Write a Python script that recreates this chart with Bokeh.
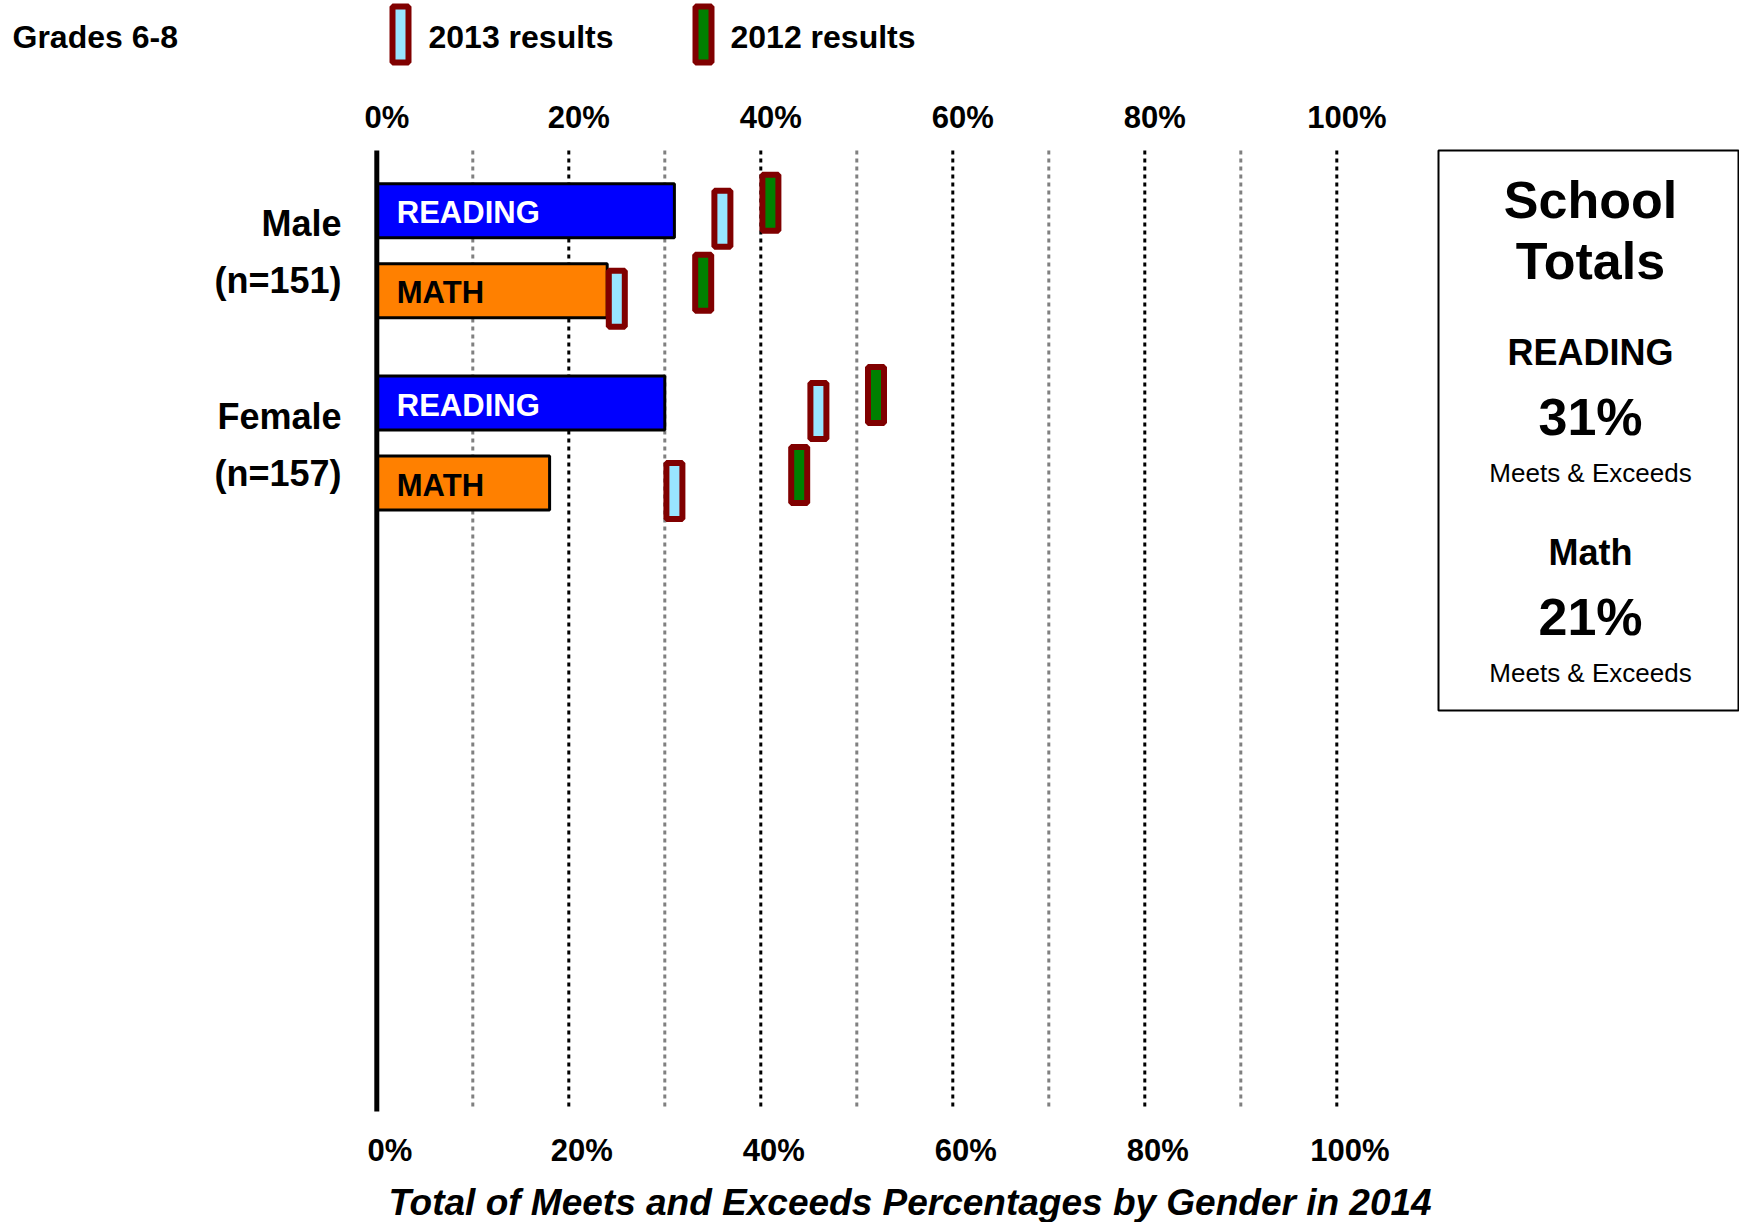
from bokeh.plotting import figure
from bokeh.models import Range1d, ColumnDataSource
from bokeh.core.properties import value
from bokeh.embed import file_html
from bokeh.resources import INLINE

# ---------------- data ----------------
groups = ["Male", "Female"]
group_n = [151, 157]
subjects = ["READING", "MATH"]
results_2014 = [[31, 24], [30, 18]]      # [group][subject]
results_2013 = [[36, 25], [46, 31]]
results_2012 = [[41, 34], [52, 44]]
major_ticks = [0, 20, 40, 60, 80, 100]
minor_ticks = [10, 30, 50, 70, 90]
tick_labels = ["0%", "20%", "40%", "60%", "80%", "100%"]
legend_labels = ["2013 results", "2012 results"]
school_subjects = ["READING", "Math"]
school_values = [31, 21]
title_text = "Total of Meets and Exceeds Percentages by Gender in 2014"
corner_text = "Grades 6-8"

# ---------------- layout / style ----------------
W, H = 1739, 1222
M = 0
ORIGIN_X = 376.3
PX_PER_PCT = 9.6
TS = -11   # text baseline correction
FONT = value("Liberation Sans")
BAR_COLORS = {"READING": "#0000FF", "MATH": "#FF8000"}
BAR_TEXT = {"READING": "white", "MATH": "black"}
C13 = "#99E5FF"
C12 = "#008000"
EDGE = "#800000"

p = figure(width=W, height=H, output_backend="svg", toolbar_location=None,
           x_range=Range1d((M - ORIGIN_X) / PX_PER_PCT, (M + W - ORIGIN_X) / PX_PER_PCT),
           y_range=Range1d(M + H, M), min_border=0,
           x_axis_location=None, y_axis_location=None)
p.extra_x_ranges = {"px": Range1d(M, M + W)}
p.outline_line_color = None
p.xgrid.visible = False
p.ygrid.visible = False
p.background_fill_color = "white"
p.border_fill_color = "white"

PLOT_TOP, PLOT_BOT = 150, 1107
Y0, GROUP_STEP, SUB_STEP = 210.3, 192.2, 80.0

# grid lines
p.segment(x0=minor_ticks, x1=minor_ticks, y0=[PLOT_TOP] * len(minor_ticks), y1=[PLOT_BOT] * len(minor_ticks),
          line_color="#808080", line_width=3, line_dash="4 4")
p.segment(x0=major_ticks[1:], x1=major_ticks[1:], y0=[PLOT_TOP] * 5, y1=[PLOT_BOT] * 5,
          line_color="black", line_width=3, line_dash="4 4")

# bars
ys, vals, cols, names, tcol = [], [], [], [], []
m13x, m13y, m12x, m12y = [], [], [], []
for g in range(len(groups)):
    for s in range(len(subjects)):
        y = Y0 + g * GROUP_STEP + s * SUB_STEP
        ys.append(y)
        vals.append(results_2014[g][s])
        cols.append(BAR_COLORS[subjects[s]])
        names.append(subjects[s])
        tcol.append(BAR_TEXT[subjects[s]])
        m13x.append(results_2013[g][s]); m13y.append(y + 8)
        m12x.append(results_2012[g][s]); m12y.append(y - 8)

bars = ColumnDataSource(dict(y=ys, v=vals, c=cols, name=names, tc=tcol, zero=[0] * len(ys)))
p.hbar(y="y", left="zero", right="v", height=54, fill_color="c", line_color="black",
       line_width=3, source=bars)
p.text(x="zero", y="y", text="name", text_color="tc", source=bars, x_offset=20, y_offset=13 + TS,
       text_font=FONT, text_font_style="bold", text_font_size="31px", text_baseline="alphabetic")

# zero axis line
p.segment(x0=[0], x1=[0], y0=[PLOT_TOP], y1=[1111], line_color="black", line_width=5)

# markers
p.rect(x=m13x, y=m13y, width=16, height=56, width_units="screen", height_units="screen",
       fill_color=C13, line_color=EDGE, line_width=6)
p.rect(x=m12x, y=m12y, width=16, height=56, width_units="screen", height_units="screen",
       fill_color=C12, line_color=EDGE, line_width=6)

# tick labels (top & bottom)
p.text(x=major_ticks, y=[128 + TS] * 6, text=tick_labels, x_offset=10, text_align="center",
       text_baseline="alphabetic", text_font=FONT, text_font_style="bold", text_font_size="31px")
p.text(x=major_ticks, y=[1161 + TS] * 6, text=tick_labels, x_offset=13, text_align="center",
       text_baseline="alphabetic", text_font=FONT, text_font_style="bold", text_font_size="31px")

# group labels
gl_y, gl_t = [], []
for g in range(len(groups)):
    c = Y0 + g * GROUP_STEP + SUB_STEP / 2
    gl_y += [c - 16 + TS, c + 41 + TS]
    gl_t += [groups[g], "(n=%d)" % group_n[g]]
p.text(x=[341] * len(gl_y), y=gl_y, text=gl_t, x_range_name="px", text_align="right",
       text_baseline="alphabetic", text_font=FONT, text_font_style="bold", text_font_size="36px")

# title
p.text(x=[909.5], y=[1213 + TS], text=[title_text], x_range_name="px", text_align="center",
       text_baseline="alphabetic", text_font=FONT, text_font_style="bold italic", text_font_size="37px")
p.text(x=[12], y=[47 + TS], text=[corner_text], x_range_name="px", text_align="left",
       text_baseline="alphabetic", text_font=FONT, text_font_style="bold", text_font_size="32px")

# legend
p.rect(x=[400], y=[34], width=16, height=56, width_units="screen", height_units="screen",
       fill_color=C13, line_color=EDGE, line_width=6, x_range_name="px")
p.rect(x=[703], y=[34], width=16, height=56, width_units="screen", height_units="screen",
       fill_color=C12, line_color=EDGE, line_width=6, x_range_name="px")
p.text(x=[428, 730], y=[47 + TS, 47 + TS], text=legend_labels, x_range_name="px", text_align="left",
       text_baseline="alphabetic", text_font=FONT, text_font_style="bold", text_font_size="32px")

# school totals box
p.quad(left=[1438], right=[1738], top=[150], bottom=[710], fill_color=None,
       line_color="black", line_width=2, x_range_name="px")
BX = 1590
box_t = ["School", "Totals"]
box_y = [210, 271]
box_s = ["52px", "52px"]
box_st = ["bold", "bold"]
base = [363, 427, 483]
for i, (sub, v) in enumerate(zip(school_subjects, school_values)):
    off = i * 200
    box_t += [sub, "%d%%" % v, "Meets & Exceeds"]
    box_y += [base[0] + off, base[1] + off, base[2] + off]
    box_s += ["36px", "52px", "26px"]
    box_st += ["bold", "bold", "normal"]
for t, y, s, st in zip(box_t, box_y, box_s, box_st):
    p.text(x=[BX], y=[y + TS], text=[t], x_range_name="px", text_align="center",
           text_baseline="alphabetic", text_font=FONT, text_font_style=st, text_font_size=s)

open("out.html", "w").write(file_html(p, INLINE))
